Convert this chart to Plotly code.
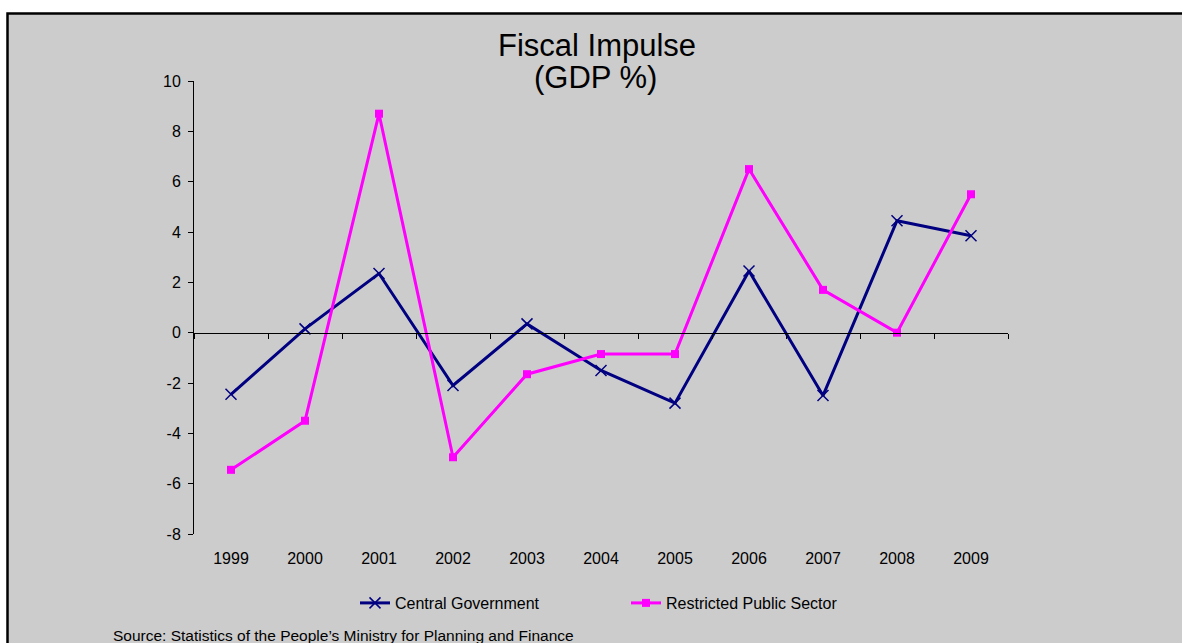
import plotly.graph_objects as go

years = ["1999", "2000", "2001", "2002", "2003", "2004", "2005", "2006", "2007", "2008", "2009"]
central_gov = [-2.45, 0.15, 2.35, -2.1, 0.35, -1.5, -2.8, 2.45, -2.5, 4.45, 3.85]
restricted_ps = [-5.45, -3.5, 8.7, -4.95, -1.65, -0.85, -0.85, 6.5, 1.7, 0.0, 5.5]
y_ticks = [-8, -6, -4, -2, 0, 2, 4, 6, 8, 10]

y_min, y_max = -8, 10
font = "Liberation Sans, Arial, sans-serif"

W, H = 1182, 643
# plot area in window pixels: x 194..1008, y 81..534
def px(xs):
    return (xs - 194) / 814

def py(ys):
    return (534 - ys) / 453

fig = go.Figure()
fig.add_trace(go.Scatter(
    x=years, y=central_gov, name="Central Government", mode="lines+markers",
    line=dict(color="#000080", width=3),
    marker=dict(symbol="x-thin-open", size=11, color="#000080",
                line=dict(color="#000080", width=1.5))))
fig.add_trace(go.Scatter(
    x=years, y=restricted_ps, name="Restricted Public Sector", mode="lines+markers",
    line=dict(color="#FF00FF", width=3),
    marker=dict(symbol="square", size=8, color="#FF00FF")))
# invisible trace so the zero-line axis gets drawn
fig.add_trace(go.Scatter(
    x=years, y=central_gov, xaxis="x2", mode="lines", line=dict(width=0),
    showlegend=False, hoverinfo="skip", opacity=0))

# grey chart area with black frame (runs past the right/bottom edge)
fig.add_shape(type="rect", xref="paper", yref="paper",
              x0=px(7.5), x1=px(1230), y0=py(690), y1=py(13.5),
              fillcolor="#CCCCCC", line=dict(color="black", width=2.5), layer="below")

fig.add_annotation(text="Fiscal Impulse", xref="paper", yref="paper",
                   x=px(597), y=py(45), xanchor="center", yanchor="middle",
                   showarrow=False, font=dict(family=font, size=31, color="black"))
fig.add_annotation(text="(GDP %)", xref="paper", yref="paper",
                   x=px(595), y=py(78), xanchor="center", yanchor="middle",
                   showarrow=False, font=dict(family=font, size=31, color="black"))

fig.add_annotation(
    text="Source: Statistics of the People\u2019s Ministry for Planning and Finance",
    xref="paper", yref="paper", x=px(111), y=py(646),
    xanchor="left", yanchor="bottom", showarrow=False,
    font=dict(family=font, size=15.5, color="black"))

fig.update_layout(
    width=W, height=H,
    margin=dict(l=194, r=W - 1008, t=81, b=H - 534),
    paper_bgcolor="white", plot_bgcolor="rgba(0,0,0,0)",
    font=dict(family=font, size=16, color="black"),
    xaxis=dict(type="category", categoryarray=years, range=[-0.5, 10.5],
               showline=False, ticks="", showgrid=False, zeroline=False,
               ticklabelstandoff=13),
    xaxis2=dict(type="category", categoryarray=years, range=[-0.5, 10.5],
                overlaying="x", anchor="free", position=(0 - y_min) / (y_max - y_min),
                showline=True, linecolor="black", linewidth=1,
                ticks="outside", tickson="boundaries", ticklen=5, tickcolor="black",
                showticklabels=False, showgrid=False, zeroline=False),
    yaxis=dict(range=[y_min, y_max], tickvals=y_ticks, ticktext=[str(v) for v in y_ticks],
               showgrid=False, zeroline=False,
               showline=True, linecolor="black", linewidth=1,
               ticks="outside", ticklen=5, tickcolor="black", ticklabelstandoff=4),
    legend=dict(orientation="h", x=px(355), xanchor="left",
                y=py(603), yanchor="middle",
                entrywidth=226, entrywidthmode="pixels",
                bgcolor="rgba(0,0,0,0)", font=dict(family=font, size=16)),
)

# drop the page margin and scrollbars so the figure fills the window exactly
fig.write_html("out.html", config={"displayModeBar": False}, post_script=(
    "document.body.style.margin='0';"
    "document.body.style.overflow='hidden';"))
